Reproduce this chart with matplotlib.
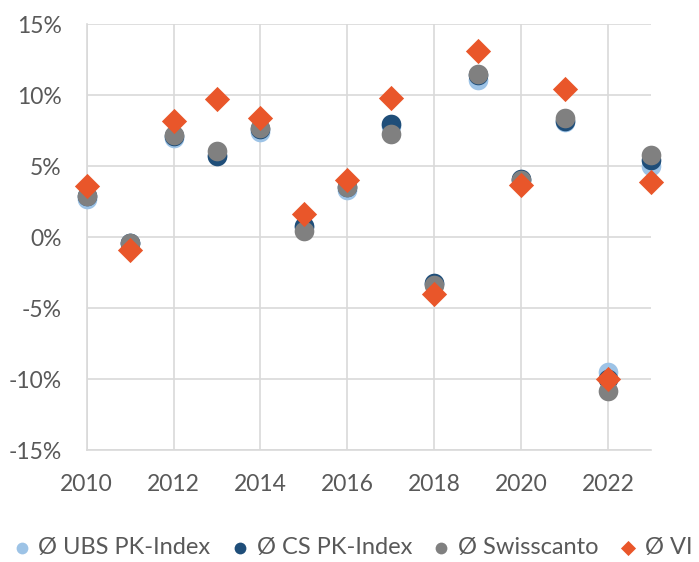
import matplotlib.pyplot as plt
from matplotlib.ticker import FuncFormatter

plt.rcParams["font.family"] = ["Lato", "DejaVu Sans"]

years = list(range(2010, 2024))
ubs = [2.7, -0.4, 7.0, 5.8, 7.4, 0.7, 3.3, 7.8, -3.3, 11.1, 4.0, 8.1, -9.5, 5.0]
cs = [2.9, -0.4, 7.1, 5.7, 7.6, 0.8, 3.5, 8.0, -3.2, 11.4, 4.1, 8.2, -10.0, 5.4]
swisscanto = [2.9, -0.4, 7.2, 6.1, 7.7, 0.4, 3.5, 7.3, -3.4, 11.5, 4.0, 8.4, -10.8, 5.8]
vi = [3.6, -0.9, 8.2, 9.7, 8.4, 1.6, 4.0, 9.8, -4.0, 13.1, 3.7, 10.4, -10.0, 3.9]

series = [
    ("Ø UBS PK-Index", ubs, "#9DC3E6", "o"),
    ("Ø CS PK-Index", cs, "#1F4E79", "o"),
    ("Ø Swisscanto", swisscanto, "#808080", "o"),
    ("Ø VI", vi, "#E9562A", "D"),
]

fig = plt.figure(figsize=(6.99, 5.62), dpi=100)
ax = fig.add_axes([0.124, 0.199, 0.808, 0.758])

for label, vals, color, marker in series:
    size = 200 if marker == "o" else 165
    ax.scatter(years, vals, s=size, color=color, marker=marker, label=label,
               linewidths=0, zorder=3, clip_on=False)

ax.set_xlim(2010, 2023)
ax.set_ylim(-15, 15)
ax.set_xticks(range(2010, 2023, 2))
ax.set_yticks(range(-15, 16, 5))
ax.yaxis.set_major_formatter(FuncFormatter(lambda v, _: f"{v:.0f}%"))
ax.grid(True, color="#D9D9D9", linewidth=1.2)
ax.set_axisbelow(True)
for side in ["top", "right"]:
    ax.spines[side].set_visible(False)
for side in ["left", "bottom"]:
    ax.spines[side].set_color("#D9D9D9")
    ax.spines[side].set_linewidth(1.2)
ax.tick_params(length=0, labelsize=16.5, labelcolor="#595959")
ax.tick_params(axis="y", pad=18)
ax.tick_params(axis="x", pad=17)

fig.legend(loc="center left", bbox_to_anchor=(-0.016, 0.025), ncol=4,
           frameon=False, fontsize=17, labelcolor="#595959",
           handletextpad=0.2, columnspacing=0.75, markerscale=0.6,
           handlelength=1.0)

fig.savefig("out.png", dpi=100)
